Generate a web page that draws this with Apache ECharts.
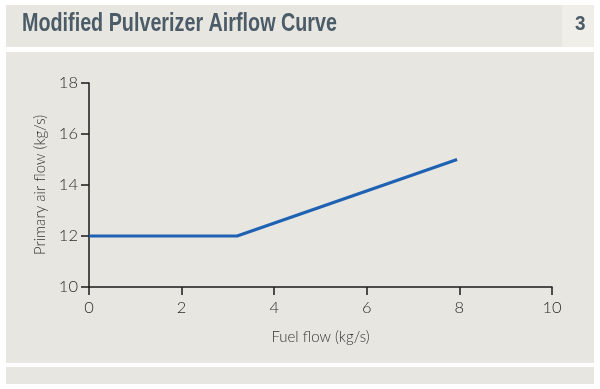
<!DOCTYPE html>
<html><head><meta charset="utf-8">
<script src="https://cdn.jsdelivr.net/npm/echarts@6/dist/echarts.min.js"></script>
<style>html,body{margin:0;padding:0;background:#fff}#c{width:600px;height:389px}</style>
</head><body><div id="c"></div>
<script>
const titleText = 'Modified Pulverizer Airflow Curve';
const figNumber = '3';
const xName = 'Fuel flow (kg/s)';
const yName = 'Primary air flow (kg/s)';
const fuelFlow = [0, 3.2, 7.95];
const airFlow = [12, 12, 15];

const chart = echarts.init(document.getElementById('c'), null, {renderer: 'canvas'});
const panel = '#e7e6e0';
const lblFont = {color: '#2b2b2b', fontSize: 16.5, fontFamily: 'Lato', fontWeight: 300};
chart.setOption({
  backgroundColor: '#ffffff',
  animation: false,
  graphic: [
    {type: 'rect', shape: {x: 6, y: 5, width: 556, height: 42}, style: {fill: panel}, z: -10},
    {type: 'rect', shape: {x: 562, y: 5, width: 32, height: 42}, style: {fill: '#efeee9'}, z: -10},
    {type: 'rect', shape: {x: 6, y: 52, width: 588, height: 311}, style: {fill: panel}, z: -10},
    {type: 'rect', shape: {x: 6, y: 367, width: 588, height: 17}, style: {fill: panel}, z: -10},
    {type: 'text', x: 22, y: 12, scaleX: 0.79, style: {text: titleText, font: 'bold 25px "Liberation Sans", Arial, sans-serif', fill: '#4b5b68'}},
    {type: 'text', x: 575, y: 14, scaleX: 0.9, style: {text: figNumber, font: 'bold 21px "Liberation Sans", Arial, sans-serif', fill: '#4b5b68'}}
  ],
  grid: {left: 89, right: 48, top: 83, bottom: 102},
  xAxis: {
    type: 'value', min: 0, max: 10, interval: 2,
    name: xName, nameLocation: 'middle', nameGap: 43,
    nameTextStyle: {color: '#333', fontSize: 15, fontFamily: 'Lato', fontWeight: 300},
    axisLine: {lineStyle: {color: '#1a1a1a', width: 1.5}},
    axisTick: {show: true, length: 8, lineStyle: {color: '#1a1a1a', width: 1.5}},
    axisLabel: Object.assign({margin: 12}, lblFont),
    splitLine: {show: false}
  },
  yAxis: {
    type: 'value', min: 10, max: 18, interval: 2,
    name: yName, nameLocation: 'middle', nameGap: 40, nameRotate: 90,
    nameTextStyle: {color: '#333', fontSize: 15, fontFamily: 'Lato', fontWeight: 300},
    axisLine: {show: true, lineStyle: {color: '#1a1a1a', width: 1.5}},
    axisTick: {show: true, length: 8, lineStyle: {color: '#1a1a1a', width: 1.5}},
    axisLabel: Object.assign({margin: 11}, lblFont),
    splitLine: {show: false}
  },
  series: [{
    type: 'line',
    data: fuelFlow.map((x, i) => [x, airFlow[i]]),
    symbol: 'none',
    lineStyle: {color: '#1f62b4', width: 3.2},
    z: 5
  }]
});
</script></body></html>
